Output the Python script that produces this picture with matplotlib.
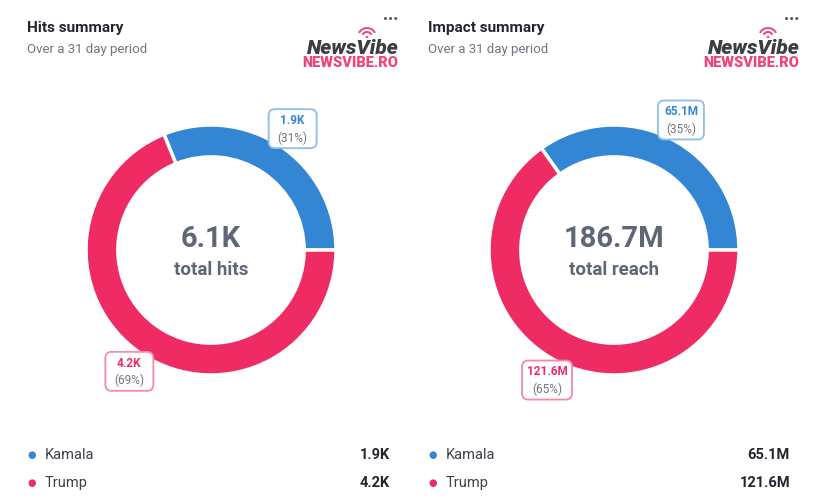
import matplotlib.pyplot as plt
import numpy as np
from matplotlib.patches import FancyBboxPatch, Arc, Circle

plt.rcParams['font.family'] = ['Roboto', 'DejaVu Sans']

# ===============================
# Data
# ===============================
candidates = ["Kamala", "Trump"]
hits = [1.9, 4.2]                 # thousands
hits_labels = ["1.9K", "4.2K"]
hits_pct = ["(31%)", "(69%)"]
hits_total = "6.1K"

reach = [65.1, 121.6]             # millions
reach_labels = ["65.1M", "121.6M"]
reach_pct = ["(35%)", "(65%)"]
reach_total = "186.7M"

titles = ["Hits summary", "Impact summary"]
subtitle = "Over a 31 day period"
center_words = ["total hits", "total reach"]

colors = ["#3386d4", "#ee2b63"]
edge_colors = ["#8fbdea", "#f28aa8"]
dark = "#23262f"
gray = "#6f7480"
center_gray = "#5f6776"

W, H = 832, 504
fig = plt.figure(figsize=(W / 100, H / 100), dpi=100)
fig.patch.set_facecolor("white")


def px(x, y):
    # pixel coords (top-left origin) -> figure fraction
    return x / W, 1 - y / H


R = 125
ext = 1.32


def donut(cx, cy, values, val_labels, pct_labels, total, word, box_w):
    side = 2 * ext * R
    ax = fig.add_axes([(cx - side / 2) / W, (H - cy - side / 2) / H, side / W, side / H])
    wedges, _ = ax.pie(values, colors=colors, startangle=0, counterclock=True, radius=1,
                       wedgeprops=dict(width=0.255, edgecolor="white", linewidth=2.5))
    # pie resets the limits, so set them afterwards
    ax.set_xlim(-ext, ext)
    ax.set_ylim(-ext, ext)
    ax.set_aspect("equal")
    ax.axis("off")
    ax.text(0, 0.09, total, ha="center", va="center", fontsize=21, fontweight="bold",
            color=center_gray)
    ax.text(0, -0.16, word, ha="center", va="center", fontsize=13.5, fontweight="bold",
            color=center_gray)
    for i, w in enumerate(wedges):
        mid = np.deg2rad((w.theta1 + w.theta2) / 2)
        lx, ly = 1.17 * np.cos(mid), 1.17 * np.sin(mid)
        bw, bh = box_w[i] / R, 39 / R
        box = FancyBboxPatch((lx - bw / 2, ly - bh / 2), bw, bh,
                             boxstyle="round,pad=0,rounding_size=0.05",
                             facecolor="white", edgecolor=edge_colors[i], linewidth=1.3,
                             zorder=5, clip_on=False)
        ax.add_patch(box)
        ax.text(lx, ly + 0.065, val_labels[i], ha="center", va="center", fontsize=8.5,
                fontweight="bold", color=colors[i], zorder=6)
        ax.text(lx, ly - 0.075, pct_labels[i], ha="center", va="center", fontsize=8.5,
                color=gray, zorder=6)
    return ax


def header(x0, title, xr):
    fig.text(*px(x0 + 27, 28), title, ha="left", va="center", fontsize=11,
             fontweight="bold", color=dark)
    fig.text(*px(x0 + 27, 49), subtitle, ha="left", va="center", fontsize=9.5, color=gray)
    fig.text(*px(xr, 20), "\u2022\u2022\u2022", ha="right", va="center", fontsize=11,
             color="#555a66")
    fig.text(*px(xr + 1, 48), "NewsVibe", ha="right", va="center", fontsize=15,
             fontweight="black", style="italic", color="#3b3d42")
    fig.text(*px(xr, 63), "NEWSVIBE.RO", ha="right", va="center", fontsize=10.5,
             fontweight="black", color="#f0457a")
    # little wifi sign above the logo
    ix, iy = xr - 31, 37
    fx, fy = px(ix, iy)
    fig.patches.append(Circle((fx, fy), 1.6 / W, transform=fig.transFigure,
                              facecolor="#f0457a", edgecolor="none"))
    for r in (5, 9):
        fig.patches.append(Arc((fx, fy), 2 * r / W, 2 * r / H, theta1=40, theta2=140,
                               transform=fig.transFigure, edgecolor="#f0457a",
                               linewidth=1.4))


def legend(x0, x_val, vals):
    for i, name in enumerate(candidates):
        y = 455 + 28 * i
        fig.text(*px(x0 + 27, y), "\u25cf", ha="left", va="center", fontsize=7,
                 color=colors[i])
        fig.text(*px(x0 + 45, y), name, ha="left", va="center", fontsize=10.5, color="#3c404a")
        fig.text(*px(x_val, y), vals[i], ha="right", va="center", fontsize=10.5,
                 fontweight="bold", color=dark)


header(0, titles[0], 398)
header(401, titles[1], 799)

donut(211, 250, hits, hits_labels, hits_pct, hits_total, center_words[0], [48, 48])
donut(614, 250, reach, reach_labels, reach_pct, reach_total, center_words[1], [46, 50])

legend(0, 390, hits_labels)
legend(401, 790, reach_labels)

fig.savefig("out.png", dpi=100)
